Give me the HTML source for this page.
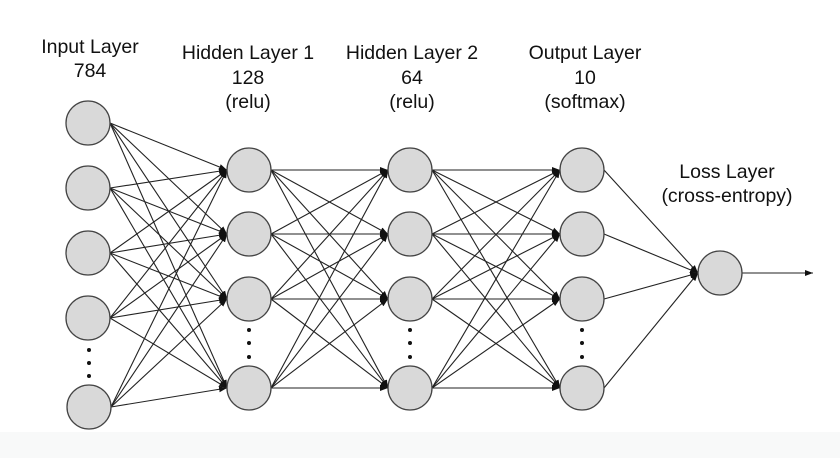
<!DOCTYPE html>
<html><head><meta charset="utf-8"><style>
html,body{margin:0;padding:0;background:#fff}
svg{display:block}
text{font-family:"Liberation Sans",Arial,sans-serif;font-size:19.5px;fill:#111;text-anchor:middle}
</style></head><body>
<svg width="840" height="458" viewBox="0 0 840 458" xmlns="http://www.w3.org/2000/svg">
<defs>
<marker id="b" markerUnits="userSpaceOnUse" markerWidth="10" markerHeight="10" viewBox="0 0 10 10" refX="8" refY="5" orient="auto">
<path d="M0,2 L8,5 L0,8 Z" fill="#111"/>
</marker>
</defs>
<rect x="0" y="432" width="840" height="26" fill="#f8f9f9"/>
<g stroke="#222" stroke-width="1.1" marker-end="url(#b)">
<line x1="110" y1="123" x2="227" y2="170"/><line x1="110" y1="123" x2="227" y2="234"/><line x1="110" y1="123" x2="227" y2="299"/><line x1="110" y1="123" x2="227" y2="388"/>
<line x1="110" y1="188" x2="227" y2="170"/><line x1="110" y1="188" x2="227" y2="234"/><line x1="110" y1="188" x2="227" y2="299"/><line x1="110" y1="188" x2="227" y2="388"/>
<line x1="110" y1="253" x2="227" y2="170"/><line x1="110" y1="253" x2="227" y2="234"/><line x1="110" y1="253" x2="227" y2="299"/><line x1="110" y1="253" x2="227" y2="388"/>
<line x1="110" y1="318" x2="227" y2="170"/><line x1="110" y1="318" x2="227" y2="234"/><line x1="110" y1="318" x2="227" y2="299"/><line x1="110" y1="318" x2="227" y2="388"/>
<line x1="111" y1="407" x2="227" y2="170"/><line x1="111" y1="407" x2="227" y2="234"/><line x1="111" y1="407" x2="227" y2="299"/><line x1="111" y1="407" x2="227" y2="388"/>
<line x1="271" y1="170" x2="388" y2="170"/><line x1="271" y1="170" x2="388" y2="234"/><line x1="271" y1="170" x2="388" y2="299"/><line x1="271" y1="170" x2="388" y2="388"/>
<line x1="271" y1="234" x2="388" y2="170"/><line x1="271" y1="234" x2="388" y2="234"/><line x1="271" y1="234" x2="388" y2="299"/><line x1="271" y1="234" x2="388" y2="388"/>
<line x1="271" y1="299" x2="388" y2="170"/><line x1="271" y1="299" x2="388" y2="234"/><line x1="271" y1="299" x2="388" y2="299"/><line x1="271" y1="299" x2="388" y2="388"/>
<line x1="271" y1="388" x2="388" y2="170"/><line x1="271" y1="388" x2="388" y2="234"/><line x1="271" y1="388" x2="388" y2="299"/><line x1="271" y1="388" x2="388" y2="388"/>
<line x1="432" y1="170" x2="560" y2="170"/><line x1="432" y1="170" x2="560" y2="234"/><line x1="432" y1="170" x2="560" y2="299"/><line x1="432" y1="170" x2="560" y2="388"/>
<line x1="432" y1="234" x2="560" y2="170"/><line x1="432" y1="234" x2="560" y2="234"/><line x1="432" y1="234" x2="560" y2="299"/><line x1="432" y1="234" x2="560" y2="388"/>
<line x1="432" y1="299" x2="560" y2="170"/><line x1="432" y1="299" x2="560" y2="234"/><line x1="432" y1="299" x2="560" y2="299"/><line x1="432" y1="299" x2="560" y2="388"/>
<line x1="432" y1="388" x2="560" y2="170"/><line x1="432" y1="388" x2="560" y2="234"/><line x1="432" y1="388" x2="560" y2="299"/><line x1="432" y1="388" x2="560" y2="388"/>
<line x1="604" y1="170" x2="698" y2="273"/><line x1="604" y1="234" x2="698" y2="273"/><line x1="604" y1="299" x2="698" y2="273"/><line x1="604" y1="388" x2="698" y2="273"/>
<line x1="742" y1="273" x2="813" y2="273"/>
</g>
<g fill="#d9d9d9" stroke="#444" stroke-width="1.3">
<circle cx="88" cy="123" r="22"/><circle cx="88" cy="188" r="22"/><circle cx="88" cy="253" r="22"/><circle cx="88" cy="318" r="22"/><circle cx="89" cy="407" r="22"/>
<circle cx="249" cy="170" r="22"/><circle cx="249" cy="234" r="22"/><circle cx="249" cy="299" r="22"/><circle cx="249" cy="388" r="22"/>
<circle cx="410" cy="170" r="22"/><circle cx="410" cy="234" r="22"/><circle cx="410" cy="299" r="22"/><circle cx="410" cy="388" r="22"/>
<circle cx="582" cy="170" r="22"/><circle cx="582" cy="234" r="22"/><circle cx="582" cy="299" r="22"/><circle cx="582" cy="388" r="22"/>
<circle cx="720" cy="273" r="22"/>
</g>
<g fill="#111">
<circle cx="89" cy="350" r="2"/><circle cx="89" cy="363" r="2"/><circle cx="89" cy="376" r="2"/>
<circle cx="249" cy="330" r="2"/><circle cx="249" cy="343" r="2"/><circle cx="249" cy="357" r="2"/>
<circle cx="410" cy="330" r="2"/><circle cx="410" cy="343" r="2"/><circle cx="410" cy="357" r="2"/>
<circle cx="582" cy="330" r="2"/><circle cx="582" cy="343" r="2"/><circle cx="582" cy="357" r="2"/>
</g>
<text x="90" y="53">Input Layer</text><text x="90" y="77">784</text>
<text x="248" y="59">Hidden Layer 1</text><text x="248" y="84">128</text><text x="248" y="108">(relu)</text>
<text x="412" y="59">Hidden Layer 2</text><text x="412" y="84">64</text><text x="412" y="108">(relu)</text>
<text x="585" y="59">Output Layer</text><text x="585" y="84">10</text><text x="585" y="108">(softmax)</text>
<text x="727" y="178">Loss Layer</text><text x="727" y="202">(cross-entropy)</text>
</svg>
</body></html>
